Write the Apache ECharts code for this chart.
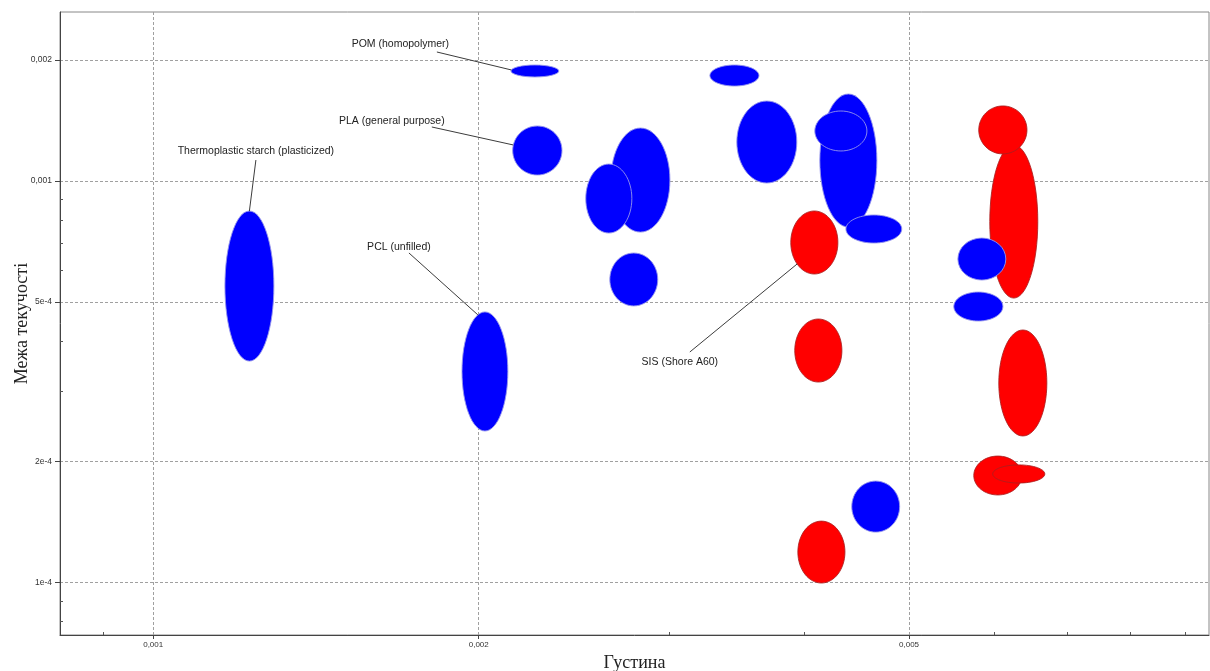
<!DOCTYPE html>
<html>
<head>
<meta charset="utf-8">
<title>Межа текучості — Густина</title>
<script src="https://cdn.jsdelivr.net/npm/echarts@6/dist/echarts.min.js"></script>
<style>
  html, body { margin: 0; padding: 0; background: #ffffff; }
  #chart { width: 1210px; height: 671px; }
</style>
</head>
<body>
<div id="chart"></div>
<script>
// ---- Material property ranges (density low/high, yield strength low/high) ----

// Thermoplastics (blue)
const thermoNames = [
  'Thermoplastic starch (plasticized)', 'PCL (unfilled)', 'POM (homopolymer)', 'PLA (general purpose)',
  '', '', '', '', '', '', '', '', '', '', ''
];
const thermoDensityLow  = [0.001165, 0.00193,  0.002142, 0.00215,  0.00265,  0.002512, 0.002644, 0.003272, 0.003465, 0.004135, 0.004091, 0.004371, 0.004426, 0.005548, 0.0055];
const thermoDensityHigh = [0.001293, 0.002128, 0.002372, 0.002388, 0.003005, 0.002771, 0.002928, 0.003632, 0.003937, 0.004669, 0.004571, 0.004923, 0.004901, 0.006144, 0.006106];
const thermoYieldLow    = [3.56e-4,  2.384e-4, 1.816e-3, 1.035e-3, 7.46e-4,  7.42e-4,  4.885e-4, 1.724e-3, 9.886e-4, 7.68e-4,  1.188e-3, 7.007e-4, 1.335e-4, 5.667e-4, 4.48e-4];
const thermoYieldHigh   = [8.42e-4,  4.72e-4,  1.945e-3, 1.371e-3, 1.355e-3, 1.102e-3, 6.616e-4, 1.945e-3, 1.582e-3, 1.647e-3, 1.494e-3, 8.229e-4, 1.789e-4, 7.21e-4,  5.29e-4];

// Elastomers (red)
const elastoNames = ['SIS (Shore A60)', '', '', '', '', '', '', ''];
const elastoDensityLow  = [0.003887, 0.00392,  0.003946, 0.005938, 0.0058,   0.006053, 0.005739, 0.005975];
const elastoDensityHigh = [0.004297, 0.004334, 0.004362, 0.006577, 0.006427, 0.006705, 0.006358, 0.006676];
const elastoYieldLow    = [5.866e-4, 3.157e-4, 9.97e-5,  5.11e-4,  1.168e-3, 2.317e-4, 1.652e-4, 1.769e-4];
const elastoYieldHigh   = [8.42e-4,  4.532e-4, 1.422e-4, 1.229e-3, 1.538e-3, 4.255e-4, 2.065e-4, 1.963e-4];

// Axis ranges and tick marks (both axes are logarithmic)
const densityRange = [0.00082, 0.00947];
const yieldRange   = [7.4e-5, 0.002636];
const densityMajorTicks  = [0.001, 0.002, 0.005];
const densityMajorLabels = ['0,001', '0,002', '0,005'];
const densityMinorTicks  = [0.0009, 0.003, 0.004, 0.006, 0.007, 0.008, 0.009];
const yieldMajorTicks  = [1e-4, 2e-4, 5e-4, 0.001, 0.002];
const yieldMajorLabels = ['1e-4', '2e-4', '5e-4', '0,001', '0,002'];
const yieldMinorTicks  = [8e-5, 9e-5, 3e-4, 4e-4, 6e-4, 7e-4, 8e-4, 9e-4];

// ---- Callout placement (pixel offsets from the bubble centre) ----
const calloutLayout = {
  'Thermoplastic starch (plasticized)': { text: [6.5, -135],    from: [6.5, -126],    anchorDeg: 270 },
  'PCL (unfilled)':                     { text: [-86, -124.5],  from: [-76, -118.5],  anchorDeg: 252 },
  'POM (homopolymer)':                  { text: [-134.5, -27],  from: [-98, -19],     anchorDeg: 190 },
  'PLA (general purpose)':              { text: [-145.5, -29.5], from: [-105.5, -23.5], anchorDeg: 193 },
  'SIS (Shore A60)':                    { text: [-134.5, 119.5], from: [-124.5, 109.5], anchorDeg: 137 }
};

const lg = Math.log10;
function rows(dl, dh, yl, yh) {
  return dl.map((_, i) => [lg(dl[i]), lg(dh[i]), lg(yl[i]), lg(yh[i])]);
}
function tickLabel(values, labels) {
  return function (v) {
    for (let i = 0; i < values.length; i++) {
      if (Math.abs(lg(values[i]) - v) < 1e-6) return labels[i];
    }
    return '';
  };
}

const labelFont = 'Liberation Sans, Arial, sans-serif';
const titleFont = 'Liberation Serif, Times New Roman, serif';

function bubbleRenderer(names, fill, stroke) {
  return function (params, api) {
    const p0 = api.coord([api.value(0), api.value(2)]);
    const p1 = api.coord([api.value(1), api.value(3)]);
    const cx = (p0[0] + p1[0]) / 2, cy = (p0[1] + p1[1]) / 2;
    const rx = Math.abs(p1[0] - p0[0]) / 2, ry = Math.abs(p1[1] - p0[1]) / 2;
    const children = [{
      type: 'ellipse',
      shape: { cx: cx, cy: cy, rx: rx, ry: ry },
      style: { fill: fill, stroke: stroke, lineWidth: 1 }
    }];
    const name = names[params.dataIndex];
    const c = calloutLayout[name];
    if (c) {
      const a = c.anchorDeg * Math.PI / 180;
      children.push({
        type: 'line',
        shape: { x1: cx + c.from[0], y1: cy + c.from[1], x2: cx + rx * Math.cos(a), y2: cy + ry * Math.sin(a) },
        style: { stroke: '#3c3c3c', lineWidth: 1 }
      });
      children.push({
        type: 'text',
        style: {
          x: cx + c.text[0], y: cy + c.text[1], text: name,
          fill: '#222', fontSize: 10.5, fontFamily: labelFont,
          align: 'center', verticalAlign: 'middle'
        }
      });
    }
    return { type: 'group', children: children };
  };
}

const gridLine = { show: true, lineStyle: { color: '#a0a0a0', width: 1, type: [3, 2] } };

const option = {
  backgroundColor: '#ffffff',
  animation: false,
  grid: {
    left: 60, right: 1, top: 12, bottom: 36,
    show: true, borderColor: '#888', borderWidth: 1,
    containLabel: false, outerBoundsMode: 'none'
  },
  xAxis: [
    {
      type: 'value', position: 'bottom',
      min: lg(densityRange[0]), max: lg(densityRange[1]),
      name: 'Густина', nameLocation: 'middle', nameGap: 19, nameMoveOverlap: false,
      nameTextStyle: { fontFamily: titleFont, fontSize: 18, color: '#222' },
      axisLine: { show: true, lineStyle: { color: '#444', width: 1 } },
      axisTick: { show: true, inside: false, length: 4, lineStyle: { color: '#444' },
                  customValues: densityMajorTicks.map(lg) },
      axisLabel: { show: true, customValues: densityMajorTicks.map(lg),
                   formatter: tickLabel(densityMajorTicks, densityMajorLabels),
                   fontSize: 8, fontFamily: labelFont, color: '#333', margin: 6 },
      splitLine: gridLine
    },
    {
      type: 'value', position: 'bottom',
      min: lg(densityRange[0]), max: lg(densityRange[1]),
      axisLine: { show: false },
      axisTick: { show: true, inside: true, length: 3, lineStyle: { color: '#555' },
                  customValues: densityMinorTicks.map(lg) },
      axisLabel: { show: false },
      splitLine: { show: false }
    }
  ],
  yAxis: [
    {
      type: 'value', position: 'left',
      min: lg(yieldRange[0]), max: lg(yieldRange[1]),
      name: 'Межа текучості', nameLocation: 'middle', nameGap: 29, nameMoveOverlap: false,
      nameTextStyle: { fontFamily: titleFont, fontSize: 18, color: '#222' },
      axisLine: { show: true, lineStyle: { color: '#444', width: 1 } },
      axisTick: { show: true, inside: false, length: 5, lineStyle: { color: '#444' },
                  customValues: yieldMajorTicks.map(lg) },
      axisLabel: { show: true, customValues: yieldMajorTicks.map(lg),
                   formatter: tickLabel(yieldMajorTicks, yieldMajorLabels),
                   fontSize: 8.5, fontFamily: labelFont, color: '#333', margin: 8 },
      splitLine: gridLine
    },
    {
      type: 'value', position: 'left',
      min: lg(yieldRange[0]), max: lg(yieldRange[1]),
      axisLine: { show: false },
      axisTick: { show: true, inside: true, length: 3, lineStyle: { color: '#555' },
                  customValues: yieldMinorTicks.map(lg) },
      axisLabel: { show: false },
      splitLine: { show: false }
    }
  ],
  series: [
    {
      name: 'Еластомери',
      type: 'custom',
      xAxisIndex: 0, yAxisIndex: 0,
      dimensions: ['densityLow', 'densityHigh', 'yieldLow', 'yieldHigh'],
      encode: { x: [0, 1], y: [2, 3] },
      renderItem: bubbleRenderer(elastoNames, '#ff0000', 'rgba(170,30,30,0.85)'),
      data: rows(elastoDensityLow, elastoDensityHigh, elastoYieldLow, elastoYieldHigh)
    },
    {
      name: 'Термопласти',
      type: 'custom',
      xAxisIndex: 0, yAxisIndex: 0,
      dimensions: ['densityLow', 'densityHigh', 'yieldLow', 'yieldHigh'],
      encode: { x: [0, 1], y: [2, 3] },
      renderItem: bubbleRenderer(thermoNames, '#0000ff', 'rgba(150,150,235,0.9)'),
      data: rows(thermoDensityLow, thermoDensityHigh, thermoYieldLow, thermoYieldHigh)
    }
  ]
};

const chart = echarts.init(document.getElementById('chart'), null, { renderer: 'canvas' });
chart.setOption(option);
</script>
</body>
</html>
